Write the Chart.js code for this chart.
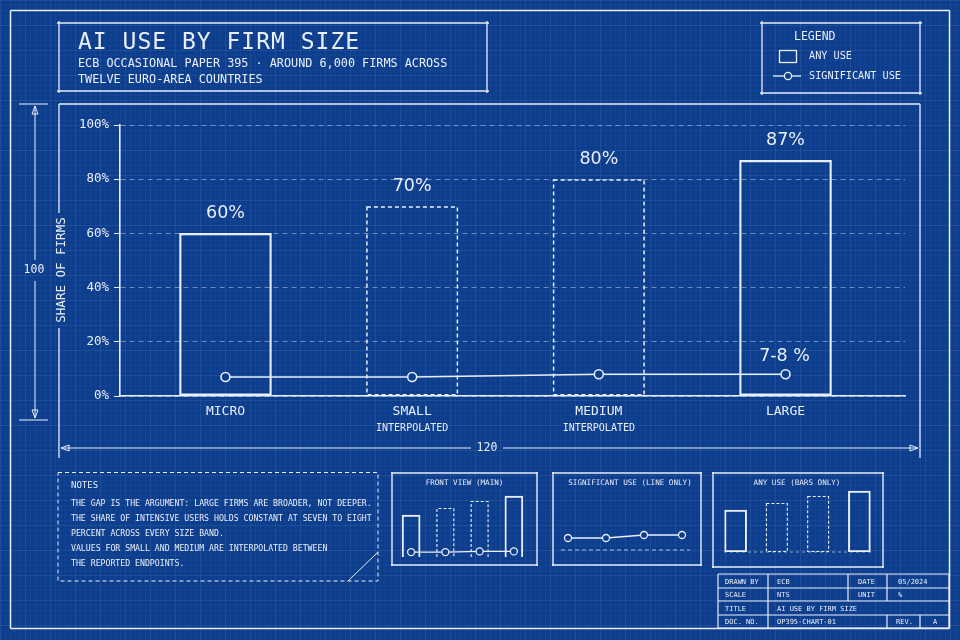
<!DOCTYPE html>
<html>
<head>
<meta charset="utf-8">
<title>AI use by firm size</title>
<script src="https://cdn.jsdelivr.net/npm/chart.js@4.4.1/dist/chart.umd.min.js"></script>
<style>
  html, body { margin: 0; padding: 0; }
  body {
    width: 960px; height: 640px; overflow: hidden; position: relative;
    background-color: #0d3d8d;
    background-image:
      linear-gradient(rgba(255,255,255,0.05) 1px, transparent 1px),
      linear-gradient(90deg, rgba(255,255,255,0.05) 1px, transparent 1px),
      linear-gradient(rgba(255,255,255,0.025) 1px, transparent 1px),
      linear-gradient(90deg, rgba(255,255,255,0.025) 1px, transparent 1px);
    background-size: 25px 25px, 25px 25px, 5px 5px, 5px 5px;
    font-family: "DejaVu Sans Mono", monospace;
    color: #e9eff9;
  }
  canvas { position: absolute; }
  .t { position: absolute; line-height: 1; white-space: nowrap; z-index: 5; }
</style>
</head>
<body>
<canvas id="main" width="960" height="640" style="left:0;top:0;width:960px;height:640px"></canvas>
<canvas id="thumbMain" width="145" height="92" style="left:392px;top:473px;width:145px;height:92px"></canvas>
<canvas id="thumbLine" width="148" height="92" style="left:553px;top:473px;width:148px;height:92px"></canvas>
<canvas id="thumbBars" width="170" height="94" style="left:713px;top:473px;width:170px;height:94px"></canvas>
<script>
// data
const sizeBands = ['MICRO', 'SMALL', 'MEDIUM', 'LARGE'];
const bandNotes = ['', 'INTERPOLATED', 'INTERPOLATED', ''];
const anyUse = [60, 70, 80, 87];
const significantUse = [7, 7, 8, 8];
const interpolated = [false, true, true, false];
const yTicks = [0, 20, 40, 60, 80, 100];
const significantLabel = '7-8 %';

const INK = '#e9eff9';
const BG = '#0d3d8d';
const MONO = '"DejaVu Sans Mono", monospace';
const SANS = '"DejaVu Sans", sans-serif';

// html text helper, y is the middle of the caps
function put(text, x, y, size, align, extra) {
  const d = document.createElement('div');
  d.className = 't';
  d.textContent = text;
  d.style.left = x + 'px';
  d.style.top = y + 'px';
  d.style.fontSize = size + 'px';
  const tx = align === 'center' ? '-50%' : align === 'right' ? '-100%' : '0';
  d.style.transform = 'translate(' + tx + ',-50%)';
  Object.assign(d.style, extra || {});
  document.body.appendChild(d);
}

function seg(ctx, pts, dash) {
  ctx.beginPath();
  ctx.setLineDash(dash || []);
  ctx.moveTo(pts[0][0], pts[0][1]);
  for (let i = 1; i < pts.length; i++) ctx.lineTo(pts[i][0], pts[i][1]);
  ctx.stroke();
}

function box(ctx, x1, y1, x2, y2, over) {
  const o = over || 0;
  seg(ctx, [[x1 - o, y1], [x2 + o, y1]]);
  seg(ctx, [[x1 - o, y2], [x2 + o, y2]]);
  seg(ctx, [[x1, y1 - o], [x1, y2 + o]]);
  seg(ctx, [[x2, y1 - o], [x2, y2 + o]]);
}

function arrow(ctx, tx, ty, dx, dy) {
  // open arrowhead, tip at (tx,ty), pointing in direction (dx,dy)
  const len = 8, half = 3;
  const bx = tx - dx * len, by = ty - dy * len;
  seg(ctx, [[bx - dy * half, by - dx * half], [tx, ty], [bx + dy * half, by + dx * half], [bx - dy * half, by - dx * half]]);
}

// bars flagged as interpolated get a dashed outline
const dashedBars = {
  id: 'dashedBars',
  afterDatasetsDraw(chart, args, opts) {
    const meta = chart.getDatasetMeta(0);
    const ctx = chart.ctx;
    const lw = opts.width || 1.5;
    ctx.save();
    ctx.strokeStyle = INK;
    ctx.lineWidth = lw;
    ctx.setLineDash(opts.dash || [4, 3]);
    meta.data.forEach((bar, i) => {
      if (!interpolated[i]) return;
      const p = bar.getProps(['x', 'y', 'base', 'width'], true);
      const l = p.x - p.width / 2 + lw / 2, r = p.x + p.width / 2 - lw / 2, top = p.y + lw / 2;
      ctx.beginPath();
      if (opts.open) {
        ctx.moveTo(l, p.base); ctx.lineTo(l, top); ctx.lineTo(r, top); ctx.lineTo(r, p.base);
      } else {
        ctx.rect(l, top, r - l, p.base - top - lw / 2);
      }
      ctx.stroke();
    });
    ctx.restore();
  }
};

const blueprint = {
  id: 'blueprint',
  beforeDraw(chart) {
    const ctx = chart.ctx;
    ctx.save();
    ctx.strokeStyle = INK;
    ctx.fillStyle = INK;
    ctx.lineWidth = 1.5;
    box(ctx, 10.5, 10.5, 949.5, 628.5);

    ctx.lineWidth = 1.3;
    box(ctx, 59, 23, 487, 91, 2);
    box(ctx, 762, 23, 920, 93, 2);

    // plot frame, gap for axis title
    seg(ctx, [[59, 104], [920, 104]]);
    seg(ctx, [[59, 104], [59, 213]]);
    seg(ctx, [[59, 328], [59, 458]]);
    seg(ctx, [[920, 104], [920, 458]]);

    // height dimension
    ctx.lineWidth = 1;
    seg(ctx, [[19, 104], [48, 104]]);
    seg(ctx, [[19, 420], [48, 420]]);
    seg(ctx, [[35, 106], [35, 260]]);
    seg(ctx, [[35, 281], [35, 418]]);
    arrow(ctx, 35, 106, 0, -1);
    arrow(ctx, 35, 418, 0, 1);
    // width dimension
    seg(ctx, [[61, 448], [471, 448]]);
    seg(ctx, [[503, 448], [918, 448]]);
    arrow(ctx, 61, 448, -1, 0);
    arrow(ctx, 918, 448, 1, 0);

    // notes box
    seg(ctx, [[58, 472.5], [378, 472.5], [378, 581], [58, 581], [58, 472.5]], [4, 3]);
    seg(ctx, [[348, 581], [378, 552]]);

    // small views
    ctx.lineWidth = 1.4;
    box(ctx, 392, 473, 537, 565, 1);
    box(ctx, 553, 473, 701, 565, 1);
    box(ctx, 713, 473, 883, 567, 1);

    // title block
    ctx.lineWidth = 1.2;
    box(ctx, 718, 574, 949, 628);
    [588, 601, 615].forEach(y => seg(ctx, [[718, y], [949, y]]));
    seg(ctx, [[768, 574], [768, 628]]);
    seg(ctx, [[848, 574], [848, 601]]);
    seg(ctx, [[887, 574], [887, 601]]);
    seg(ctx, [[887, 615], [887, 628]]);
    seg(ctx, [[920, 615], [920, 628]]);

    // legend keys
    ctx.lineWidth = 1.3;
    ctx.strokeRect(779.5, 50.5, 17, 12);
    seg(ctx, [[773, 76], [801, 76]]);
    ctx.beginPath();
    ctx.arc(788, 76, 3.6, 0, Math.PI * 2);
    ctx.fillStyle = BG;
    ctx.fill();
    ctx.stroke();
    ctx.restore();
  },
  afterDraw(chart) {
    const ctx = chart.ctx;
    const xs = chart.scales.x;
    const bars = chart.getDatasetMeta(0).data;
    const pts = chart.getDatasetMeta(1).data;
    ctx.save();
    ctx.fillStyle = INK;
    ctx.textAlign = 'center';
    ctx.textBaseline = 'middle';

    sizeBands.forEach((name, i) => {
      const px = xs.getPixelForValue(i);
      ctx.font = '13px ' + MONO;
      ctx.fillText(name, px, 412);
      if (bandNotes[i]) {
        ctx.font = '10px ' + MONO;
        ctx.fillText(bandNotes[i], px, 428);
      }
    });

    ctx.font = '17.5px ' + SANS;
    bars.forEach((bar, i) => ctx.fillText(anyUse[i] + '%', bar.x, bar.y - 20));
    const last = pts[pts.length - 1];
    ctx.fillText(significantLabel, last.x - 1, last.y - 18);

    ctx.font = '11.5px ' + MONO;
    ctx.fillText('100', 34, 270);
    ctx.fillText('120', 487, 448);

    ctx.translate(62, 270);
    ctx.rotate(-Math.PI / 2);
    ctx.font = '12.5px ' + MONO;
    ctx.fillText('SHARE OF FIRMS', 0, 0);
    ctx.restore();
  }
};

new Chart(document.getElementById('main'), {
  type: 'bar',
  data: {
    datasets: [
      {
        type: 'bar',
        data: anyUse.map((v, i) => ({ x: i, y: v })),
        barThickness: 92,
        backgroundColor: 'rgba(0,0,0,0)',
        borderColor: INK,
        borderWidth: c => interpolated[c.dataIndex] ? 0 : 1.6,
        borderSkipped: false,
        order: 2
      },
      {
        type: 'line',
        data: significantUse.map((v, i) => ({ x: i, y: v })),
        borderColor: INK,
        borderWidth: 1.6,
        pointRadius: 4.5,
        pointBorderWidth: 1.6,
        pointBackgroundColor: BG,
        pointBorderColor: INK,
        order: 1
      }
    ]
  },
  options: {
    responsive: false,
    animation: false,
    events: [],
    layout: { padding: { left: 60, top: 125, right: 55, bottom: 244 } },
    plugins: { legend: { display: false }, tooltip: { enabled: false }, dashedBars: { width: 1.5, dash: [4, 3] } },
    scales: {
      x: {
        type: 'linear',
        offset: false,
        min: -0.565,
        max: 3.64,
        grid: { display: false, offset: false },
        ticks: { display: false },
        border: { color: INK, width: 1.6 },
        afterFit: s => { s.height = 0; }
      },
      y: {
        min: 0,
        max: 100,
        afterBuildTicks: s => { s.ticks = yTicks.map(v => ({ value: v })); },
        ticks: { callback: v => v + '%', color: INK, font: { family: MONO, size: 12.5 }, padding: 5 },
        grid: { color: 'rgba(225,235,250,0.45)', lineWidth: 1, tickColor: INK, tickLength: 6 },
        border: { color: INK, width: 1.6, dash: [5, 4] },
        afterFit: s => { s.width = 60; }
      }
    }
  },
  plugins: [blueprint, dashedBars]
});

// front view (main) thumbnail
new Chart(document.getElementById('thumbMain'), {
  type: 'bar',
  data: {
    labels: sizeBands,
    datasets: [
      { type: 'bar', data: anyUse, barThickness: 18, backgroundColor: 'rgba(0,0,0,0)', borderColor: INK,
        borderWidth: c => interpolated[c.dataIndex] ? 0 : 1.3, order: 2 },
      { type: 'line', data: significantUse, borderColor: INK, borderWidth: 1.3, pointRadius: 3.5,
        pointBorderWidth: 1.3, pointBackgroundColor: BG, pointBorderColor: INK, order: 1 }
    ]
  },
  options: {
    responsive: false, animation: false, events: [],
    layout: { autoPadding: false, padding: { left: 2, right: 6, top: 14, bottom: 8 } },
    plugins: { legend: { display: false }, tooltip: { enabled: false }, dashedBars: { width: 1.1, dash: [3, 2], open: true } },
    scales: { x: { display: false }, y: { display: false, min: 0, max: 100 } }
  },
  plugins: [dashedBars]
});

// significant use, line only
new Chart(document.getElementById('thumbLine'), {
  type: 'line',
  data: {
    labels: sizeBands,
    datasets: [
      { data: significantUse, borderColor: INK, borderWidth: 1.3, pointRadius: 3.5,
        pointBorderWidth: 1.3, pointBackgroundColor: BG, pointBorderColor: INK }
    ]
  },
  options: {
    responsive: false, animation: false, events: [],
    layout: { padding: { left: 15, right: 19, top: 17, bottom: 15 } },
    plugins: { legend: { display: false }, tooltip: { enabled: false } },
    scales: { x: { display: false, offset: false }, y: { display: false, min: 3, max: 23 } }
  },
  plugins: [{
    id: 'baseline',
    beforeDatasetsDraw(chart) {
      const { ctx, chartArea: a } = chart;
      ctx.save();
      ctx.strokeStyle = 'rgba(225,235,250,0.75)';
      ctx.lineWidth = 1;
      seg(ctx, [[a.left - 7, a.bottom], [a.right + 8, a.bottom]], [4, 3]);
      ctx.restore();
    }
  }]
});

// any use, bars only
new Chart(document.getElementById('thumbBars'), {
  type: 'bar',
  data: {
    labels: sizeBands,
    datasets: [
      { data: anyUse, barThickness: 22, backgroundColor: 'rgba(0,0,0,0)', borderColor: INK,
        borderWidth: c => interpolated[c.dataIndex] ? 0 : 1.3, borderSkipped: false }
    ]
  },
  options: {
    responsive: false, animation: false, events: [],
    layout: { padding: { left: 2, right: 3, top: 9, bottom: 15 } },
    plugins: { legend: { display: false }, tooltip: { enabled: false }, dashedBars: { width: 1.1, dash: [3, 2] } },
    scales: { x: { display: false }, y: { display: false, min: 0, max: 100 } }
  },
  plugins: [{
    id: 'baseline',
    beforeDatasetsDraw(chart) {
      const { ctx, chartArea: a } = chart;
      ctx.save();
      ctx.strokeStyle = 'rgba(225,235,250,0.6)';
      ctx.lineWidth = 1;
      seg(ctx, [[a.left + 9, a.bottom], [a.right - 8, a.bottom]], [3, 3]);
      ctx.restore();
    }
  }, dashedBars]
});

// title and legend text
put('AI USE BY FIRM SIZE', 78, 40.5, 23, 'left', { letterSpacing: '1px' });
put('ECB OCCASIONAL PAPER 395 \u00b7 AROUND 6,000 FIRMS ACROSS', 78, 64, 11.8);
put('TWELVE EURO-AREA COUNTRIES', 78, 80, 11.8);
put('LEGEND', 794, 36.5, 11.5);
put('ANY USE', 809, 56, 10.2);
put('SIGNIFICANT USE', 809, 76, 10.2);

// notes
put('NOTES', 71, 485, 9);
const noteLines = [
  'THE GAP IS THE ARGUMENT: LARGE FIRMS ARE BROADER, NOT DEEPER.',
  'THE SHARE OF INTENSIVE USERS HOLDS CONSTANT AT SEVEN TO EIGHT',
  'PERCENT ACROSS EVERY SIZE BAND.',
  'VALUES FOR SMALL AND MEDIUM ARE INTERPOLATED BETWEEN',
  'THE REPORTED ENDPOINTS.'
];
const noteY = [503, 517.5, 532.5, 548, 563];
noteLines.forEach((s, i) => put(s, 71, noteY[i], 8.2));

// small view captions
put('FRONT VIEW (MAIN)', 464.5, 483, 7.6, 'center');
put('SIGNIFICANT USE (LINE ONLY)', 630, 483, 7.6, 'center');
put('ANY USE (BARS ONLY)', 797, 483, 7.6, 'center');

// title block
const tb = [
  ['DRAWN BY', 725, 581.5], ['ECB', 777, 581.5], ['DATE', 858, 581.5], ['05/2024', 898, 581.5],
  ['SCALE', 725, 595], ['NTS', 777, 595], ['UNIT', 858, 595], ['%', 898, 595],
  ['TITLE', 725, 608.5], ['AI USE BY FIRM SIZE', 777, 608.5],
  ['DOC. NO.', 725, 622], ['OP395-CHART-01', 777, 622], ['REV.', 896, 622], ['A', 933, 622]
];
tb.forEach(r => put(r[0], r[1], r[2], 7));
</script>
</body>
</html>
